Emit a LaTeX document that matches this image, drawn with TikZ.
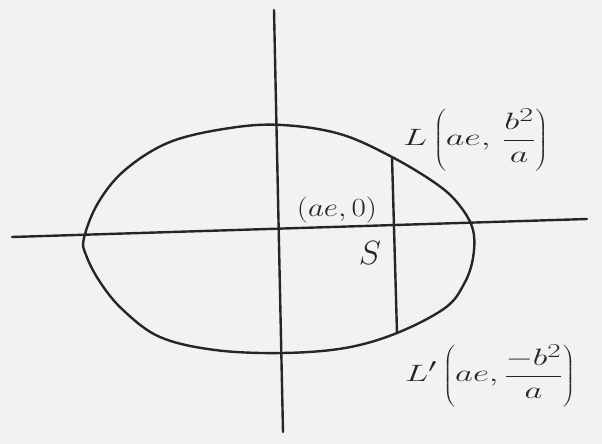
\documentclass[tikz,border=0pt]{standalone}
\usetikzlibrary{calc}
\tikzset{
  ink/.style={line width=2.4pt, draw=black!85, line cap=round, line join=round},
  lbl/.style={inner sep=0pt, text=black!85, font=\Huge}
}
\begin{document}
\begin{tikzpicture}[x=1pt,y=-1pt]
\useasboundingbox[fill=black!5] (0,0) rectangle (602,444);
% axes end points
\coordinate (xl) at (12,237);
\coordinate (xr) at (587,219);
\coordinate (yt) at (274,10);
\coordinate (yb) at (283,432);
\draw[ink] (xl) -- (xr);
\draw[ink] (yt) -- (yb);
% ellipse (hand drawn, egg-like)
\draw[ink] plot[smooth cycle, tension=0.6] coordinates {
  (84,238) (98,203) (125,170) (170,142) (230,128) (282,125) (340,134)
  (392,157) (438,185) (460,206) (473,230) (473,258) (464,284) (445,308)
  (397,333) (345,348) (282,353) (215,350) (160,337) (123,310) (100,282) (86,255)};
% latus rectum
\coordinate (L) at (392,157);
\coordinate (Lp) at (397,333);
\draw[ink] (L) -- (Lp);
% labels
\node[lbl, anchor=west] (Ltxt) at (403,140) {\scalebox{1.45}[0.95]{$\displaystyle L\left(ae,\,\frac{b^2}{a}\right)$}};
\node[lbl, anchor=center] (S0) at (337,210) {\scalebox{1.25}[1.05]{$(ae,0)$}};
\node[lbl, anchor=center] (Stxt) at (370,253) {\scalebox{1.35}{$S$}};
\node[lbl, anchor=west] (Lptxt) at (405,376) {\scalebox{1.4}[0.95]{$\displaystyle L'\left(ae,\frac{-b^2}{a}\right)$}};
\end{tikzpicture}
\end{document}
